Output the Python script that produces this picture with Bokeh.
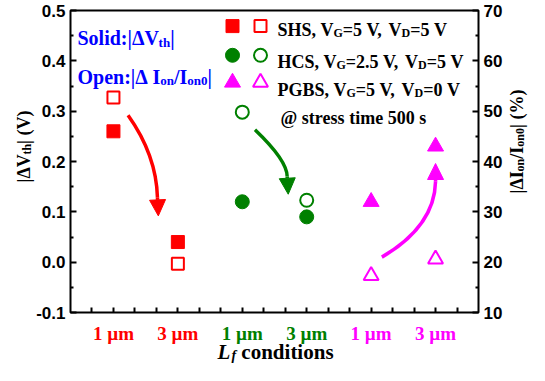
import math
from bokeh.plotting import figure
from bokeh.models import (Range1d, LinearAxis, FixedTicker, PrintfTickFormatter,
                          Label, Arrow, NormalHead)
from bokeh.embed import file_html
from bokeh.resources import INLINE

# ---------------- data ----------------
cond_labels = ["1 µm", "3 µm", "1 µm", "3 µm", "1 µm", "3 µm"]
cond_pos = [2, 5, 8, 11, 14, 17]
cond_colors = ["#ff0000", "#ff0000", "#008000", "#008000", "#ff00ff", "#ff00ff"]

shs_x = [2, 5]
shs_dvth = [0.26, 0.04]     # |dVth| (V), left axis
shs_dion = [52.7, 19.7]     # |dIon/Ion0| (%), right axis
hcs_x = [8, 11]
hcs_dvth = [0.12, 0.09]
hcs_dion = [49.8, 32.3]
pgbs_x = [14, 17]
pgbs_dvth = [0.12, 0.23]
pgbs_dion = [17.3, 20.6]

left_ticks = [-0.1, 0.0, 0.1, 0.2, 0.3, 0.4, 0.5]
left_minor = [-0.05, 0.05, 0.15, 0.25, 0.35, 0.45]
right_ticks = [10, 20, 30, 40, 50, 60, 70]
right_minor = [15, 25, 35, 45, 55, 65]
bottom_ticks = list(range(1, 19))

RED, GREEN, MAG, BLUE = "#ff0000", "#008000", "#ff00ff", "#0000ff"

# arrows: (colour, start, control, end of curve, tip) in data coords
arrows = [
    (RED, (2.68, 0.292), (4.0, 0.213), (4.05, 0.128), (4.09, 0.092)),
    (GREEN, (8.59, 0.263), (10.09, 0.202), (10.09, 0.170), (10.14, 0.135)),
    (MAG, (14.5, 0.010), (16.95, 0.071), (17.0, 0.160), (17.0, 0.196)),
]

# ---------------- geometry ----------------
X0, X1, Y0, Y1 = 0, 19, -0.1, 0.5          # visible plot box (data)
P0, P1 = 10, 70                             # right axis (%) over the same box
WIDTH, HEIGHT = 529, 365
FL, FR, FT, FB = 70, 478, 10, 312           # plot box on the canvas (px)
PXX = (FR - FL) / (X1 - X0)
PXY = (FB - FT) / (Y1 - Y0)

def DX(cx):
    return X0 + (cx - FL) / PXX

def DY(cy):
    return Y0 + (FB - cy) / PXY

def PCT(y):
    return P0 + (y - Y0) * (P1 - P0) / (Y1 - Y0)

# the drawing area covers the whole canvas so texts outside the box are not clipped
p = figure(width=WIDTH, height=HEIGHT,
           x_range=Range1d(DX(0), DX(WIDTH)), y_range=Range1d(DY(HEIGHT), DY(0)),
           output_backend="svg", toolbar_location=None, title=None,
           x_axis_location=None, y_axis_location=None,
           min_border=0, min_border_left=0, min_border_right=0,
           min_border_top=0, min_border_bottom=0)
p.extra_y_ranges = {"pct": Range1d(PCT(DY(HEIGHT)), PCT(DY(0)))}
p.outline_line_color = None
p.background_fill_color = "white"
p.border_fill_color = "white"
p.xgrid.visible = False
p.ygrid.visible = False

TICK_FONT = "Liberation Sans"
SERIF = "Liberation Serif"

def style_axis(ax, inward=6, minor=3):
    ax.axis_line_color = None
    ax.major_tick_in = inward
    ax.major_tick_out = 0
    ax.minor_tick_in = minor
    ax.minor_tick_out = 0
    ax.major_tick_line_width = 2
    ax.minor_tick_line_width = 2
    ax.major_tick_line_color = "black"
    ax.minor_tick_line_color = "black" if minor else None
    ax.major_label_text_font = TICK_FONT
    ax.major_label_text_font_style = "bold"
    ax.major_label_text_font_size = "17px"
    ax.major_label_text_color = "black"
    ax.major_label_standoff = 5

yl = LinearAxis(fixed_location=X0, ticker=FixedTicker(ticks=left_ticks, minor_ticks=left_minor),
                formatter=PrintfTickFormatter(format="%.1f"))
style_axis(yl)
p.add_layout(yl, "left")

yr = LinearAxis(fixed_location=X1, y_range_name="pct",
                ticker=FixedTicker(ticks=right_ticks, minor_ticks=right_minor),
                formatter=PrintfTickFormatter(format="%d"))
style_axis(yr)
p.add_layout(yr, "right")

xb = LinearAxis(fixed_location=Y0, ticker=FixedTicker(ticks=bottom_ticks, minor_ticks=[]))
style_axis(xb, inward=5, minor=0)
xb.major_label_text_font_size = "0px"
xb.major_label_text_color = None
p.add_layout(xb, "below")

# box around the plot area
p.quad(left=[X0], right=[X1], bottom=[Y0], top=[Y1], fill_color=None,
       line_color="black", line_width=2)

# ---------------- rich text helpers ----------------
W = {' ': 250, '%': 1000, '(': 333, ')': 333, ',': 250, '-': 333, '.': 250, '/': 278,
     ':': 333, '=': 570, '@': 930, 'B': 667, 'C': 722, 'D': 722, 'G': 778, 'H': 778,
     'I': 389, 'L': 667, 'O': 778, 'P': 611, 'S': 556, 'V': 722, 'a': 500, 'c': 444,
     'd': 556, 'e': 444, 'f': 333, 'h': 556, 'i': 278, 'l': 278, 'm': 833, 'n': 556,
     'o': 500, 'p': 556, 'r': 444, 's': 389, 't': 333, '|': 220, 'Δ': 612, 'µ': 556}
for d in "0123456789":
    W[d] = 500

def tw(s, size):
    return sum(W.get(c, 500) for c in s) * size / 1000.0

def tokens(segs, size, align):
    sub = round(size * 0.66)
    out = []
    pos = 0.0
    for t, k in segs:
        sz = sub if "s" in k else size
        for i, word in enumerate(t.split(" ")):
            if i > 0:
                pos += tw(" ", sz)
            if word:
                w = tw(word, sz)
                out.append([word, k, sz, pos, w])
                pos += w
    shift = {"left": 0, "center": -pos / 2, "right": -pos}[align]
    for o in out:
        o[3] += shift
    return out

def rich(segs, cx, cy, size, color, align="left", vertical=False):
    """Rich text; (cx, cy) = canvas point on the baseline (start, or centre)."""
    for word, k, sz, start, w in tokens(segs, size, align):
        sh = size * 0.21 if "s" in k else 0
        if vertical:   # reads bottom-to-top
            x, y, ang = DX(cx + sh), DY(cy - start), math.pi / 2
        else:
            x, y, ang = DX(cx + start), DY(cy + sh), 0
        p.add_layout(Label(x=x, y=y, text=word, text_font=SERIF, text_font_size=f"{sz}px",
                           text_font_style="bold italic" if "i" in k else "bold",
                           text_color=color, text_align="left", text_baseline="alphabetic",
                           angle=ang))

# ---------------- arrows ----------------
for col, s0, c1, e2, tip in arrows:
    p.quadratic(x0=[s0[0]], y0=[s0[1]], x1=[e2[0]], y1=[e2[1]], cx=[c1[0]], cy=[c1[1]],
                line_color=col, line_width=3.5)
    p.add_layout(Arrow(x_start=e2[0], y_start=e2[1], x_end=tip[0], y_end=tip[1],
                       line_color=col, line_width=3.5,
                       end=NormalHead(size=16, fill_color=col, line_color=col, line_width=1)))

# ---------------- data markers ----------------
MS = {"square": 13, "circle": 14, "triangle": 16}
series = [(shs_x, shs_dvth, shs_dion, "square", RED),
          (hcs_x, hcs_dvth, hcs_dion, "circle", GREEN),
          (pgbs_x, pgbs_dvth, pgbs_dion, "triangle", MAG)]
for xs, dv, di, mk, col in series:
    p.scatter(x=xs, y=dv, marker=mk, size=MS[mk], fill_color=col, line_color=col, line_width=1)
    p.scatter(x=xs, y=di, y_range_name="pct", marker=mk, size=MS[mk] - 1,
              fill_color="white", line_color=col, line_width=2)

# ---------------- legend ----------------
leg_rows = [
    ("square", RED, 25.6, 29, [("SHS, V", "n"), ("G", "s"), ("=5 V, V", "n"), ("D", "s"), ("=5 V", "n")]),
    ("circle", GREEN, 54.8, 61, [("HCS, V", "n"), ("G", "s"), ("=2.5 V, V", "n"), ("D", "s"), ("=5 V", "n")]),
    ("triangle", MAG, 82, 89, [("PGBS, V", "n"), ("G", "s"), ("=5 V, V", "n"), ("D", "s"), ("=0 V", "n")]),
]
for mk, col, cy, base, segs in leg_rows:
    p.scatter(x=[DX(232)], y=[DY(cy)], marker=mk, size=MS[mk], fill_color=col, line_color=col)
    p.scatter(x=[DX(260)], y=[DY(cy)], marker=mk, size=MS[mk] - 1, fill_color="white",
              line_color=col, line_width=2)
    rich(segs, 277, base, 18, "black")
rich([("@ stress time 500 s", "n")], 280, 117, 18, "black")

# blue notes
rich([("Solid:|ΔV", "n"), ("th", "s"), ("|", "n")], 77, 37.5, 20, BLUE)
rich([("Open:|Δ I", "n"), ("on", "s"), ("/I", "n"), ("on0", "s"), ("|", "n")], 77, 76, 20, BLUE)

# ---------------- category labels & axis titles ----------------
for lab, xp, col in zip(cond_labels, cond_pos, cond_colors):
    p.add_layout(Label(x=xp, y=DY(333), text=lab, text_font=SERIF, text_font_size="19px",
                       text_font_style="bold", text_color=col, text_align="center",
                       text_baseline="alphabetic"))

rich([("L", "i"), ("f", "is"), (" conditions", "n")], 275, 351, 21, "black", align="center")
rich([("|ΔV", "n"), ("th", "s"), ("| (V)", "n")], 23, 146, 18, "black",
     align="center", vertical=True)
rich([("|ΔI", "n"), ("on", "s"), ("/I", "n"), ("on0", "s"), ("| (%)", "n")], 516, 141, 18,
     "black", align="center", vertical=True)

open("out.html", "w").write(file_html(p, INLINE))
